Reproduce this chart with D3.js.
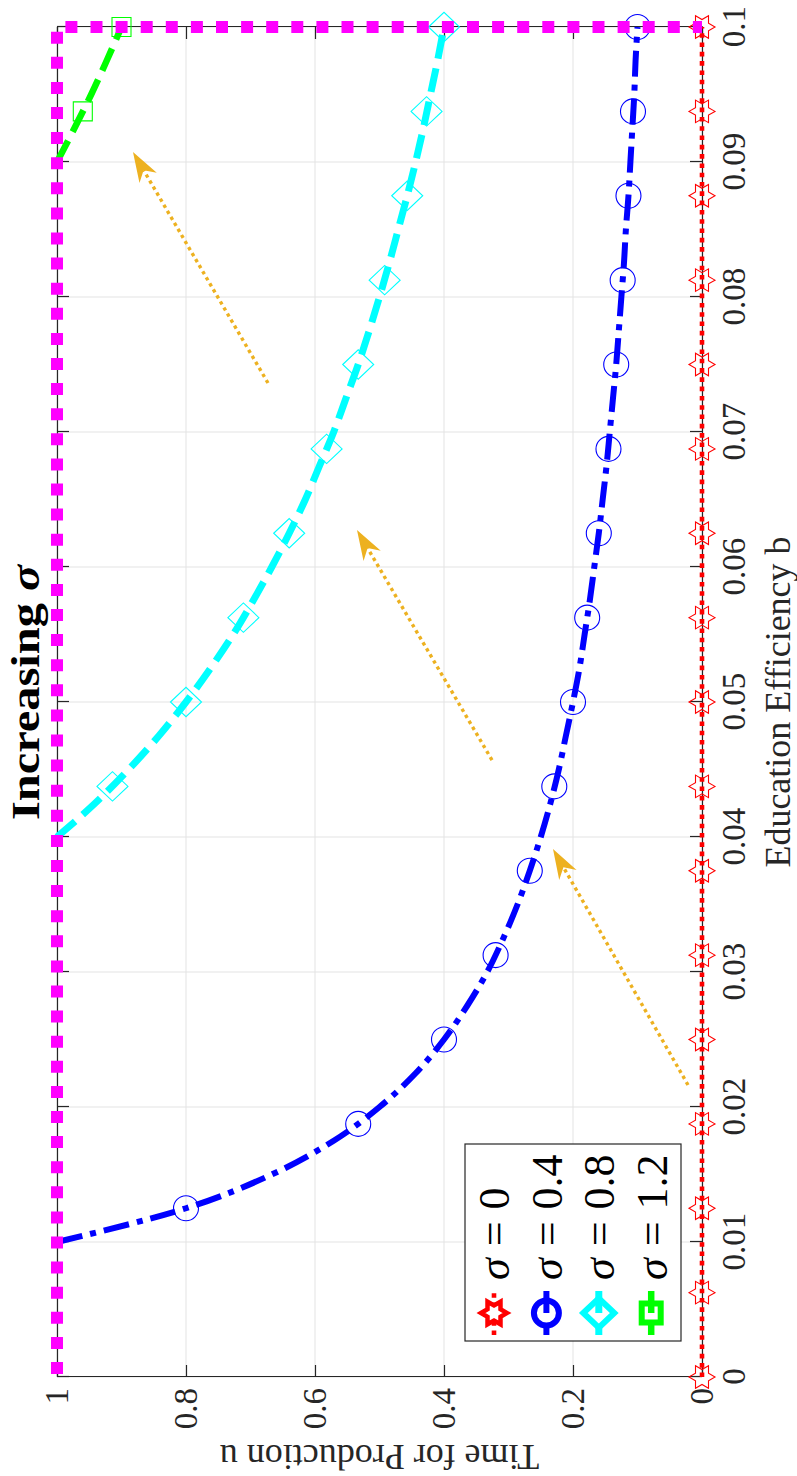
<!DOCTYPE html>
<html>
<head>
<meta charset="utf-8">
<script src="https://cdn.jsdelivr.net/npm/d3@7"></script>
<style>
  html, body { margin: 0; padding: 0; background: #ffffff; }
  svg { display: block; }
</style>
</head>
<body>
<script>
// ---- Data -------------------------------------------------------------
// Education efficiency b at which the curves are sampled
const bSamples = [0.01, 0.0125, 0.015, 0.0175, 0.02, 0.0225, 0.025, 0.0275, 0.03, 0.0325,
  0.035, 0.0375, 0.04, 0.0425, 0.045, 0.0475, 0.05, 0.0525, 0.055, 0.0575,
  0.06, 0.0625, 0.065, 0.0675, 0.07, 0.0725, 0.075, 0.0775, 0.08, 0.0825,
  0.085, 0.0875, 0.09, 0.0925, 0.095, 0.0975, 0.1];

// Time for production u along each curve (null = not part of the curve)
const uSigma04 = [1, 0.8, 0.667, 0.571, 0.5, 0.444, 0.4, 0.364, 0.333, 0.308,
  0.286, 0.267, 0.25, 0.235, 0.222, 0.211, 0.2, 0.19, 0.182, 0.174,
  0.167, 0.16, 0.154, 0.148, 0.143, 0.138, 0.133, 0.129, 0.125, 0.121,
  0.118, 0.114, 0.111, 0.108, 0.105, 0.103, 0.1];
const uSigma08 = [null, null, null, null, null, null, null, null, null, null,
  null, null, 1, 0.941, 0.889, 0.842, 0.8, 0.762, 0.727, 0.696,
  0.667, 0.64, 0.615, 0.593, 0.571, 0.552, 0.533, 0.516, 0.5, 0.485,
  0.471, 0.457, 0.444, 0.432, 0.421, 0.41, 0.4];
const uSigma12 = [null, null, null, null, null, null, null, null, null, null,
  null, null, null, null, null, null, null, null, null, null,
  null, null, null, null, null, null, null, null, null, null,
  null, null, 1, 0.973, 0.947, 0.923, 0.9];

// sigma = 0 curve
const bSigma0 = [0, 0.1];
const uSigma0 = [0, 0];

// Upper bound u = 1 up to b = 0.1
const bBound = [0, 0.1, 0.1];
const uBound = [1, 1, 0];

// Marker positions
const bMarkers = [0, 0.00625, 0.0125, 0.01875, 0.025, 0.03125, 0.0375, 0.04375, 0.05,
  0.05625, 0.0625, 0.06875, 0.075, 0.08125, 0.0875, 0.09375, 0.1];
const markSigma0  = [0, 0, 0, 0, 0, 0, 0, 0, 0, 0, 0, 0, 0, 0, 0, 0, 0];
const markSigma04 = [null, null, 0.8, 0.533, 0.4, 0.32, 0.267, 0.229, 0.2,
  0.178, 0.16, 0.145, 0.133, 0.123, 0.114, 0.107, 0.1];
const markSigma08 = [null, null, null, null, null, null, null, 0.914, 0.8,
  0.711, 0.64, 0.582, 0.533, 0.492, 0.457, 0.427, 0.4];
const markSigma12 = [null, null, null, null, null, null, null, null, null,
  null, null, null, null, null, null, 0.96, 0.9];

// Legend entries
const sigmaLabels = ["0", "0.4", "0.8", "1.2"];

// Axis ticks
const bTicks = [0, 0.01, 0.02, 0.03, 0.04, 0.05, 0.06, 0.07, 0.08, 0.09, 0.1];
const bTickLabels = ["0", "0.01", "0.02", "0.03", "0.04", "0.05", "0.06", "0.07", "0.08", "0.09", "0.1"];
const uTicks = [0, 0.2, 0.4, 0.6, 0.8, 1];
const uTickLabels = ["0", "0.2", "0.4", "0.6", "0.8", "1"];

// Trend arrows [b, u] : tail -> head
const arrowTails = [[0.02163, 0.0217], [0.0457, 0.3256], [0.07363, 0.6729]];
const arrowHeads = [[0.03911, 0.231], [0.06274, 0.5349], [0.09074, 0.8822]];

// ---- Layout (chart drawn landscape, then turned a quarter-turn) -------
const PAGE_W = 797, PAGE_H = 1476;
const serif = "'Liberation Serif', 'Times New Roman', Times, serif";

const x = d3.scaleLinear().domain([0, 0.1]).range([99, 1449]);
const y = d3.scaleLinear().domain([0, 1]).range([702, 57]);

const svg = d3.select("body").append("svg")
  .attr("width", PAGE_W).attr("height", PAGE_H)
  .style("background", "#fff");

const g = svg.append("g")
  .attr("transform", `translate(0,${PAGE_H}) rotate(-90)`);

const [x0, x1] = x.range();
const [yb, yt] = y.range();

// Grid
const grid = g.append("g").attr("stroke", "#e3e3e3").attr("stroke-width", 1);
grid.selectAll("line.gx").data(bTicks).join("line")
  .attr("x1", d => x(d)).attr("x2", d => x(d)).attr("y1", yt).attr("y2", yb);
grid.selectAll("line.gy").data(uTicks).join("line")
  .attr("x1", x0).attr("x2", x1).attr("y1", d => y(d)).attr("y2", d => y(d));

// Axes (ticks inside, box on)
const axColor = "#262626";
function styleAxis(sel) {
  sel.select(".domain").attr("stroke", axColor).attr("stroke-width", 1.2);
  sel.selectAll(".tick line").attr("stroke", axColor).attr("stroke-width", 1.2);
  sel.selectAll(".tick text").attr("fill", "#262626")
    .style("font-family", serif).style("font-size", "33px");
}
g.append("g").attr("transform", `translate(0,${yb})`)
  .call(d3.axisBottom(x).tickValues(bTicks).tickFormat((d, i) => bTickLabels[i])
    .tickSizeInner(-12).tickSizeOuter(0).tickPadding(20))
  .call(styleAxis);
g.append("g").attr("transform", `translate(0,${yt})`)
  .call(d3.axisTop(x).tickValues(bTicks).tickFormat("")
    .tickSizeInner(-12).tickSizeOuter(0))
  .call(styleAxis);
g.append("g").attr("transform", `translate(${x0},0)`)
  .call(d3.axisLeft(y).tickValues(uTicks).tickFormat((d, i) => uTickLabels[i])
    .tickSizeInner(-12).tickSizeOuter(0).tickPadding(11))
  .call(styleAxis);
g.append("g").attr("transform", `translate(${x1},0)`)
  .call(d3.axisRight(y).tickValues(uTicks).tickFormat("")
    .tickSizeInner(-12).tickSizeOuter(0))
  .call(styleAxis);

// Axis labels and title
g.append("text")
  .attr("x", (x0 + x1) / 2).attr("y", 790)
  .attr("text-anchor", "middle")
  .style("font-family", serif).style("font-size", "36px").attr("fill", "#262626")
  .text("Education Efficiency b");
g.append("text")
  .attr("transform", `translate(31,${(yb + yt) / 2}) rotate(-90)`)
  .attr("text-anchor", "middle")
  .style("font-family", serif).style("font-size", "36px").attr("fill", "#262626")
  .text("Time for Production u");
const title = g.append("text")
  .attr("x", 656).attr("y", 39)
  .attr("textLength", 255).attr("lengthAdjust", "spacingAndGlyphs")
  .style("font-family", serif).style("font-size", "41px").style("font-weight", "bold")
  .attr("fill", "#000");
title.append("tspan").text("Increasing ");
title.append("tspan").style("font-style", "italic").text("σ");

// ---- Marker shapes -----------------------------------------------------
function hexagramPath(r) {
  const pts = [];
  for (let k = 0; k < 12; k++) {
    const a = -Math.PI / 2 + k * Math.PI / 6;
    const rr = k % 2 === 0 ? r : r / Math.sqrt(3);
    pts.push([rr * Math.cos(a), rr * Math.sin(a)]);
  }
  return "M" + pts.map(p => p.join(",")).join("L") + "Z";
}
function circlePath(r) {
  return `M${-r},0A${r},${r} 0 1,0 ${r},0A${r},${r} 0 1,0 ${-r},0Z`;
}
function diamondPath(r) {
  return `M0,${-r}L${r * 0.95},0L0,${r}L${-r * 0.95},0Z`;
}
function squarePath(s) {
  const h = s / 2;
  return `M${-h},${-h}L${h},${-h}L${h},${h}L${-h},${h}Z`;
}

// ---- Series ------------------------------------------------------------
const series = [
  { color: "#ff0000", width: 4.6, dash: "4.6 4.7", shape: hexagramPath(13),
    b: bSigma0, u: uSigma0, marks: markSigma0 },
  { color: "#0000ff", width: 6, dash: "26 8 6 8", shape: circlePath(12.5),
    b: bSamples, u: uSigma04, marks: markSigma04 },
  { color: "#00ffff", width: 7, dash: "24 10", shape: diamondPath(15.5),
    b: bSamples, u: uSigma08, marks: markSigma08 },
  { color: "#00ff00", width: 6.5, dash: "24 10", shape: squarePath(19),
    b: bSamples, u: uSigma12, marks: markSigma12 }
];

const line = d3.line()
  .defined(d => d[1] !== null)
  .x(d => x(d[0])).y(d => y(d[1]))
  .curve(d3.curveMonotoneX);

series.forEach(s => {
  const pts = s.b.map((b, i) => [b, s.u[i]]);
  g.append("path")
    .attr("d", line(pts))
    .attr("fill", "none")
    .attr("stroke", s.color)
    .attr("stroke-width", s.width)
    .attr("stroke-dasharray", s.dash);
  const mk = bMarkers.map((b, i) => [b, s.marks[i]]).filter(d => d[1] !== null);
  g.append("g").selectAll("path").data(mk).join("path")
    .attr("transform", d => `translate(${x(d[0])},${y(d[1])})`)
    .attr("d", s.shape)
    .attr("fill", "none")
    .attr("stroke", s.color)
    .attr("stroke-width", 1.1);
});

// Upper bound (magenta, thick dotted)
g.append("path")
  .attr("d", d3.line().x(d => x(d[0])).y(d => y(d[1]))(bBound.map((b, i) => [b, uBound[i]])))
  .attr("fill", "none")
  .attr("stroke", "#ff00ff")
  .attr("stroke-width", 12)
  .attr("stroke-dasharray", "12 13.1")
  .attr("stroke-dashoffset", -3);

// ---- Trend arrows ------------------------------------------------------
const arrowColor = "#edb120";
arrowTails.forEach((t, i) => {
  const h = arrowHeads[i];
  const tx = x(t[0]), ty = y(t[1]);
  const hx = x(h[0]), hy = y(h[1]);
  const dx = hx - tx, dy = hy - ty;
  const len = Math.hypot(dx, dy);
  const ux = dx / len, uy = dy / len;
  const px = -uy, py = ux;
  const L = 30, Wd = 10, notch = 21;
  const bx = hx - ux * notch, by = hy - uy * notch;
  g.append("line")
    .attr("x1", tx).attr("y1", ty).attr("x2", bx).attr("y2", by)
    .attr("stroke", arrowColor).attr("stroke-width", 3.4)
    .attr("stroke-dasharray", "3.4 3.6");
  const c1 = [hx - ux * L + px * Wd, hy - uy * L + py * Wd];
  const c2 = [hx - ux * L - px * Wd, hy - uy * L - py * Wd];
  g.append("path")
    .attr("d", `M${hx},${hy}L${c1[0]},${c1[1]}L${bx},${by}L${c2[0]},${c2[1]}Z`)
    .attr("fill", arrowColor);
});

// ---- Legend ------------------------------------------------------------
const leg = g.append("g").attr("transform", "translate(135,465)");
leg.append("rect")
  .attr("width", 197).attr("height", 216)
  .attr("fill", "#fff").attr("stroke", "#262626").attr("stroke-width", 1.2);
series.forEach((s, i) => {
  const ry = 29 + i * 52.4;
  leg.append("line")
    .attr("x1", 6).attr("x2", 50).attr("y1", ry).attr("y2", ry)
    .attr("stroke", s.color).attr("stroke-width", s.width)
    .attr("stroke-dasharray", i === 0 ? "4.6 4.7" : "none");
  leg.append("path")
    .attr("transform", `translate(28,${ry})`)
    .attr("d", s.shape)
    .attr("fill", "#fff")
    .attr("stroke", s.color)
    .attr("stroke-width", i === 0 ? 4.5 : 6);
  if (i !== 0) {
    // line sample passes through the marker
    leg.append("line")
      .attr("x1", 28).attr("x2", 40).attr("y1", ry).attr("y2", ry)
      .attr("stroke", s.color).attr("stroke-width", s.width);
  }
  const t = leg.append("text")
    .attr("x", 61).attr("y", ry).attr("dy", "0.35em")
    .style("font-family", serif).style("font-size", "44px").attr("fill", "#000");
  t.append("tspan").style("font-style", "italic").text("σ");
  t.append("tspan").attr("dx", 12).text("=");
  t.append("tspan").attr("dx", 12).text(sigmaLabels[i]);
});
</script>
</body>
</html>
